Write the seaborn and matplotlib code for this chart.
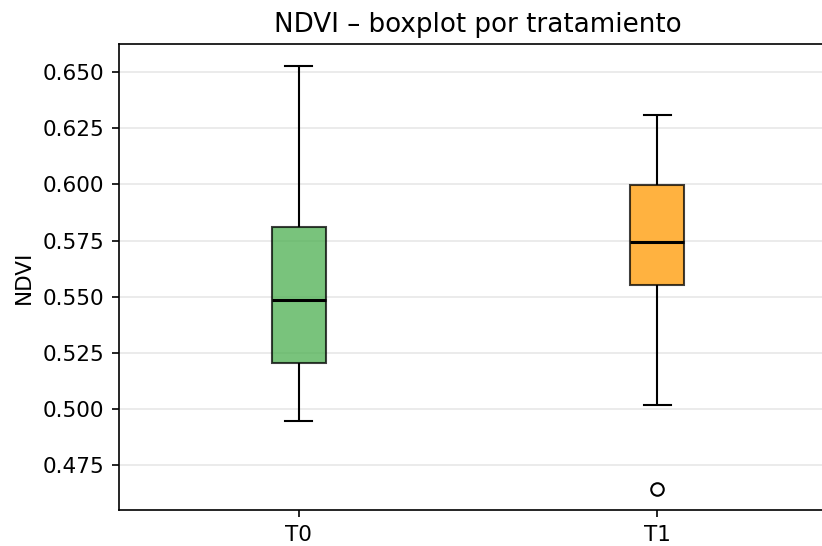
import numpy as np
import pandas as pd
import matplotlib
matplotlib.use("Agg")
import matplotlib.pyplot as plt
import seaborn as sns

# NDVI readings per treatment
ndvi_t0 = [0.4946, 0.5080, 0.5204, 0.5350, 0.5485, 0.5660, 0.5810, 0.6120, 0.6527]
ndvi_t1 = [0.4642, 0.5017, 0.5552, 0.5620, 0.5744, 0.5880, 0.5997, 0.6120, 0.6307]
treatments = ["T0", "T1"]
box_colors = ["#4CAF50", "#FF9800"]
y_ticks = [0.475, 0.500, 0.525, 0.550, 0.575, 0.600, 0.625, 0.650]

df = pd.DataFrame({
    "tratamiento": ["T0"] * len(ndvi_t0) + ["T1"] * len(ndvi_t1),
    "NDVI": ndvi_t0 + ndvi_t1,
})

fig = plt.figure(figsize=(8.22, 5.46), dpi=100)
ax = fig.add_axes([0.1451, 0.0659, 0.8728, 0.8535])

sns.boxplot(
    data=df, x="tratamiento", y="NDVI", hue="tratamiento",
    order=treatments, hue_order=treatments,
    palette=dict(zip(treatments, box_colors)), legend=False,
    saturation=1, width=0.15, linecolor="black", linewidth=1.5, ax=ax,
    boxprops=dict(alpha=0.75, edgecolor="black"),
    medianprops=dict(color="black", linewidth=2.2, alpha=1),
    whiskerprops=dict(color="black", linewidth=1.5),
    capprops=dict(color="black", linewidth=1.5),
    flierprops=dict(marker="o", markersize=9, markerfacecolor="none",
                    markeredgecolor="black", markeredgewidth=1.5),
)

ax.set_ylim(0.455, 0.6625)
ax.set_yticks(y_ticks)
ax.set_yticklabels([f"{v:.3f}" for v in y_ticks], fontsize=15.5)
ax.set_xticks(range(len(treatments)))
ax.set_xticklabels(treatments, fontsize=15.5)
ax.yaxis.grid(True, color="#b0b0b0", alpha=0.3, linewidth=1.2)
ax.xaxis.grid(False)
ax.set_axisbelow(True)

for s in ax.spines.values():
    s.set_linewidth(1.2)
    s.set_color("black")
ax.tick_params(labelsize=15.5, width=1.2, length=5, pad=6)

ax.set_xlabel("")
ax.set_ylabel("NDVI", fontsize=15.5, labelpad=6)
ax.set_title("NDVI – boxplot por tratamiento", fontsize=18.8, pad=9)

fig.savefig("out.png", dpi=100)
